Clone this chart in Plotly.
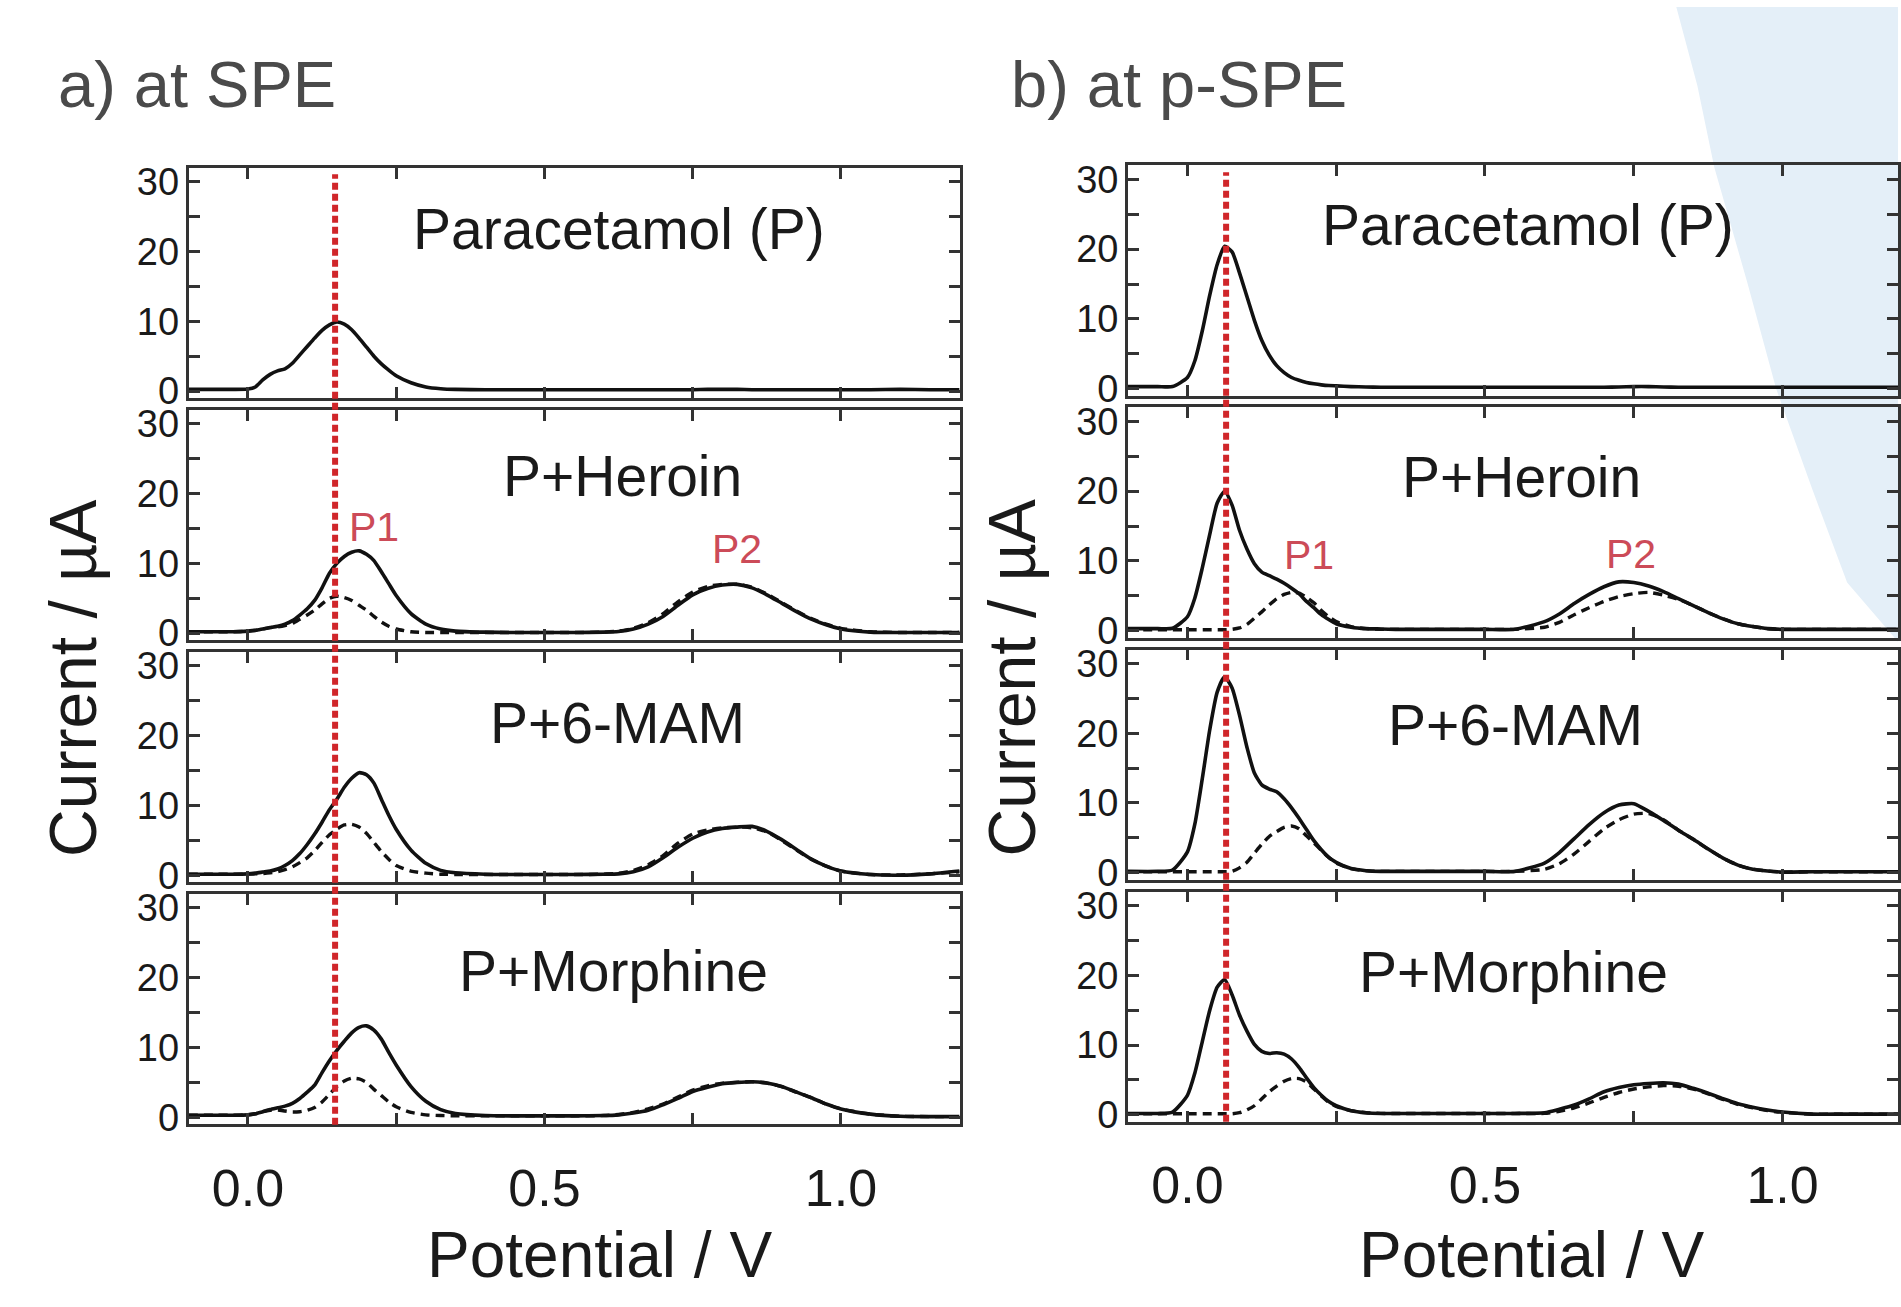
import plotly.graph_objects as go

# ---------------- data ----------------
POTENTIAL_V = [-0.1, -0.05, -0.025, 0.0, 0.0125, 0.025, 0.0375, 0.05, 0.0625, 0.075,
               0.0875, 0.1, 0.1125, 0.125, 0.1375, 0.15, 0.1625, 0.175, 0.1875, 0.2,
               0.2125, 0.225, 0.2375, 0.25, 0.275, 0.3, 0.325, 0.35, 0.4, 0.45,
               0.5, 0.55, 0.6, 0.625, 0.65, 0.675, 0.7, 0.725, 0.75, 0.775,
               0.8, 0.825, 0.85, 0.875, 0.9, 0.925, 0.95, 0.975, 1.0, 1.05,
               1.1, 1.15, 1.2]

PANEL_NAMES = ["Paracetamol (P)", "P+Heroin", "P+6-MAM", "P+Morphine"]

# a) at SPE  (solid = measured, dashed = second trace)
SPE_P_SOLID = [0.25, 0.25, 0.25, 0.3, 0.6, 1.6, 2.4, 2.9, 3.2, 4.0,
               5.2, 6.4, 7.6, 8.7, 9.5, 9.9, 9.6, 8.8, 7.6, 6.3,
               5.0, 3.9, 3.0, 2.2, 1.2, 0.6, 0.35, 0.25, 0.2, 0.2,
               0.2, 0.2, 0.2, 0.2, 0.2, 0.2, 0.2, 0.2, 0.2, 0.25,
               0.25, 0.25, 0.2, 0.2, 0.2, 0.2, 0.2, 0.2, 0.2, 0.2,
               0.25, 0.2, 0.2]
SPE_HER_SOLID = [0.2, 0.2, 0.2, 0.3, 0.4, 0.6, 0.8, 1.0, 1.3, 1.8,
                 2.6, 3.5, 4.7, 6.5, 8.6, 10.0, 11.0, 11.6, 11.8, 11.3,
                 10.4, 8.8, 7.1, 5.4, 2.8, 1.3, 0.6, 0.3, 0.15, 0.1,
                 0.1, 0.1, 0.15, 0.25, 0.6, 1.3, 2.4, 4.0, 5.5, 6.4,
                 6.9, 7.0, 6.5, 5.5, 4.3, 3.1, 2.0, 1.2, 0.6, 0.15,
                 0.1, 0.1, 0.1]
SPE_HER_DASH = [0.2, 0.2, 0.2, 0.3, 0.4, 0.6, 0.8, 0.9, 1.1, 1.4,
                2.0, 2.6, 3.3, 4.2, 5.0, 5.3, 5.1, 4.7, 4.0, 3.3,
                2.4, 1.6, 1.0, 0.6, 0.2, 0.1, 0.1, 0.1, 0.1, 0.1,
                0.1, 0.1, 0.15, 0.3, 0.7, 1.5, 2.8, 4.5, 5.9, 6.7,
                7.0, 7.0, 6.6, 5.6, 4.4, 3.2, 2.1, 1.3, 0.7, 0.2,
                0.1, 0.1, 0.1]
SPE_MAM_SOLID = [0.15, 0.15, 0.15, 0.2, 0.3, 0.45, 0.6, 0.9, 1.4, 2.1,
                 3.1, 4.4, 5.9, 7.6, 9.4, 10.9, 12.6, 13.9, 14.7, 14.4,
                 13.2, 10.9, 8.6, 6.6, 3.6, 1.7, 0.7, 0.35, 0.15, 0.1,
                 0.1, 0.1, 0.15, 0.2, 0.5, 1.2, 2.5, 4.0, 5.3, 6.2,
                 6.7, 6.9, 7.0, 6.3, 5.1, 3.7, 2.3, 1.3, 0.6, 0.1,
                 0.0, 0.2, 0.6]
SPE_MAM_DASH = [0.15, 0.15, 0.15, 0.15, 0.2, 0.25, 0.35, 0.5, 0.8, 1.2,
                1.8, 2.5, 3.5, 4.7, 5.8, 6.6, 7.2, 7.3, 6.9, 6.0,
                4.7, 3.4, 2.3, 1.4, 0.6, 0.3, 0.15, 0.1, 0.1, 0.1,
                0.1, 0.1, 0.15, 0.3, 0.7, 1.5, 2.8, 4.6, 5.9, 6.5,
                6.8, 6.9, 6.8, 6.2, 5.0, 3.6, 2.3, 1.3, 0.6, 0.1,
                0.05, 0.2, 0.5]
SPE_MOR_SOLID = [0.3, 0.3, 0.3, 0.35, 0.5, 0.8, 1.1, 1.35, 1.6, 2.0,
                 2.7, 3.6, 4.6, 6.4, 8.1, 9.6, 10.9, 12.1, 12.9, 13.1,
                 12.5, 11.2, 9.3, 7.5, 4.4, 2.3, 1.1, 0.55, 0.25, 0.2,
                 0.2, 0.2, 0.25, 0.35, 0.6, 1.0, 1.8, 2.7, 3.7, 4.3,
                 4.8, 5.0, 5.1, 4.9, 4.4, 3.6, 2.8, 1.9, 1.2, 0.45,
                 0.15, 0.1, 0.1]
SPE_MOR_DASH = [0.3, 0.3, 0.3, 0.35, 0.5, 0.8, 1.0, 1.05, 0.9, 0.75,
                0.8, 1.0, 1.4, 2.2, 3.3, 4.4, 5.2, 5.6, 5.5, 5.0,
                4.0, 3.1, 2.2, 1.5, 0.7, 0.35, 0.25, 0.2, 0.2, 0.2,
                0.2, 0.2, 0.25, 0.4, 0.7, 1.2, 1.9, 2.9, 3.9, 4.5,
                4.9, 5.0, 5.1, 4.9, 4.4, 3.6, 2.8, 1.9, 1.2, 0.45,
                0.15, 0.1, 0.1]

# b) at p-SPE
PSPE_P_SOLID = [0.3, 0.3, 0.3, 1.6, 4.0, 8.3, 13.4, 17.8, 20.4, 19.6,
                16.6, 13.2, 9.8, 6.9, 4.8, 3.3, 2.3, 1.6, 1.2, 0.9,
                0.7, 0.55, 0.45, 0.4, 0.3, 0.25, 0.2, 0.2, 0.2, 0.2,
                0.2, 0.2, 0.2, 0.2, 0.2, 0.2, 0.2, 0.25, 0.3, 0.3,
                0.25, 0.2, 0.2, 0.2, 0.2, 0.2, 0.2, 0.2, 0.2, 0.2,
                0.2, 0.2, 0.2]
PSPE_HER_SOLID = [0.3, 0.3, 0.35, 2.0, 4.7, 9.0, 13.8, 18.3, 20.0, 18.0,
                  14.4, 11.7, 9.6, 8.4, 7.9, 7.4, 6.8, 6.1, 5.3, 4.2,
                  3.3, 2.3, 1.6, 1.0, 0.5, 0.3, 0.25, 0.2, 0.2, 0.2,
                  0.2, 0.2, 1.3, 2.4, 3.9, 5.2, 6.3, 7.0, 6.9, 6.4,
                  5.6, 4.6, 3.6, 2.6, 1.7, 1.0, 0.6, 0.3, 0.2, 0.2,
                  0.2, 0.2, 0.2]
PSPE_HER_DASH = [0.15, 0.15, 0.15, 0.15, 0.15, 0.15, 0.15, 0.15, 0.15, 0.2,
                 0.4, 0.9, 1.8, 2.7, 3.7, 4.6, 5.2, 5.5, 5.4, 4.8,
                 4.0, 2.9, 2.0, 1.3, 0.6, 0.3, 0.2, 0.2, 0.2, 0.2,
                 0.2, 0.2, 0.5, 1.2, 2.3, 3.3, 4.2, 4.9, 5.3, 5.5,
                 5.1, 4.5, 3.6, 2.6, 1.7, 1.0, 0.6, 0.3, 0.2, 0.2,
                 0.2, 0.2, 0.2]
PSPE_MAM_SOLID = [0.2, 0.2, 0.4, 3.0, 7.0, 13.5, 20.5, 25.9, 28.1, 26.5,
                  22.6, 18.0, 14.3, 12.6, 12.0, 11.6, 10.6, 9.3, 7.8, 6.2,
                  4.6, 3.3, 2.2, 1.5, 0.6, 0.3, 0.2, 0.2, 0.2, 0.2,
                  0.2, 0.2, 1.4, 2.9, 4.9, 6.9, 8.6, 9.7, 9.9, 8.8,
                  7.5, 6.1, 4.8, 3.4, 2.1, 1.1, 0.5, 0.25, 0.1, 0.15,
                  0.15, 0.15, 0.15]
PSPE_MAM_DASH = [0.15, 0.15, 0.15, 0.15, 0.15, 0.15, 0.15, 0.15, 0.15, 0.2,
                 0.7, 1.5, 2.8, 4.1, 5.2, 5.9, 6.5, 6.7, 6.3, 5.3,
                 4.3, 3.2, 2.2, 1.4, 0.6, 0.3, 0.2, 0.2, 0.2, 0.2,
                 0.2, 0.2, 0.5, 1.3, 2.7, 4.5, 6.3, 7.6, 8.4, 8.5,
                 7.6, 6.1, 4.8, 3.4, 2.1, 1.1, 0.5, 0.25, 0.1, 0.15,
                 0.15, 0.15, 0.15]
PSPE_MOR_SOLID = [0.2, 0.2, 0.4, 2.8, 6.0, 10.5, 15.0, 18.3, 19.4, 17.2,
                  14.3, 12.0, 10.1, 9.1, 8.8, 8.9, 8.7, 8.0, 6.8, 5.3,
                  3.9, 2.8, 1.9, 1.3, 0.6, 0.3, 0.2, 0.2, 0.2, 0.2,
                  0.2, 0.2, 0.3, 0.8, 1.4, 2.3, 3.3, 3.9, 4.3, 4.5,
                  4.6, 4.4, 3.8, 3.1, 2.3, 1.6, 1.1, 0.7, 0.4, 0.1,
                  0.1, 0.1, 0.1]
PSPE_MOR_DASH = [0.15, 0.15, 0.15, 0.15, 0.15, 0.15, 0.15, 0.15, 0.15, 0.15,
                 0.3, 0.7, 1.3, 2.3, 3.3, 4.1, 4.8, 5.2, 5.2, 4.7,
                 3.7, 2.7, 1.8, 1.2, 0.6, 0.3, 0.2, 0.2, 0.2, 0.2,
                 0.2, 0.2, 0.2, 0.5, 1.0, 1.7, 2.5, 3.2, 3.7, 4.0,
                 4.2, 4.1, 3.7, 3.0, 2.2, 1.5, 1.0, 0.6, 0.35, 0.1,
                 0.1, 0.1, 0.1]

SPE_SOLID = [SPE_P_SOLID, SPE_HER_SOLID, SPE_MAM_SOLID, SPE_MOR_SOLID]
SPE_DASH = [None, SPE_HER_DASH, SPE_MAM_DASH, SPE_MOR_DASH]
PSPE_SOLID = [PSPE_P_SOLID, PSPE_HER_SOLID, PSPE_MAM_SOLID, PSPE_MOR_SOLID]
PSPE_DASH = [None, PSPE_HER_DASH, PSPE_MAM_DASH, PSPE_MOR_DASH]

REF_POTENTIAL_SPE = 0.147   # red dashed marker, a)
REF_POTENTIAL_PSPE = 0.065  # red dashed marker, b)

X_TICKS = [0.0, 0.5, 1.0]
X_TICKTEXT = ["0.0", "0.5", "1.0"]
X_MINOR = [0.25, 0.75]
Y_TICKS = [0, 10, 20, 30]
Y_TICKTEXT = ["0", "10", "20", "30"]
Y_MINOR = [5, 15, 25]

# ---------------- layout helpers ----------------
W, H = 1901, 1307
FONT = "Liberation Sans, Arial, Helvetica, sans-serif"
INK = "#1a1a1a"
AX = "#333333"
RED = "#d0262a"
LABEL_RED = "#cc4b58"


def px(xp):
    return xp / W


def py(yp):
    return 1 - yp / H


PANEL_H = 234
LEFT_TOPS = [163.5, 409.5, 655.5, 901.5]
RIGHT_TOPS = [161.0, 407.0, 653.0, 899.0]
LEFT_X = [px(188.9), px(961.1)]
RIGHT_X = [px(1129.7), 1.0]
Y_RANGE = [-1.0, 32.0]

fig = go.Figure()
layout = {}


def add_panel(n, xdom, top, xrange, solid, dash, bottom):
    xa = "x" if n == 1 else f"x{n}"
    ya = "y" if n == 1 else f"y{n}"
    fig.add_trace(go.Scatter(x=POTENTIAL_V, y=solid, mode="lines", xaxis=xa, yaxis=ya,
                             line=dict(color="#111111", width=3.6, shape="spline", smoothing=0.6),
                             showlegend=False, hoverinfo="skip"))
    if dash is not None:
        fig.add_trace(go.Scatter(x=POTENTIAL_V, y=dash, mode="lines", xaxis=xa, yaxis=ya,
                                 line=dict(color="#111111", width=3.4, dash="9px,6px",
                                           shape="spline", smoothing=0.6),
                                 showlegend=False, hoverinfo="skip"))
    common = dict(showline=True, linecolor=AX, linewidth=2.8, mirror="ticks",
                  ticks="inside", ticklen=11, tickwidth=2.5, tickcolor=AX,
                  showgrid=False, zeroline=False, fixedrange=True)
    layout["xaxis" if n == 1 else f"xaxis{n}"] = dict(
        domain=xdom, range=xrange, anchor=ya, tickvals=X_TICKS, ticktext=X_TICKTEXT,
        minor=dict(tickvals=X_MINOR, ticks="inside", ticklen=11, tickwidth=2.5,
                   tickcolor=AX, showgrid=False),
        showticklabels=bottom, tickfont=dict(family=FONT, size=52, color=INK),
        ticklabelstandoff=16, **common)
    layout["yaxis" if n == 1 else f"yaxis{n}"] = dict(
        domain=[py(top + PANEL_H), py(top)], range=Y_RANGE, anchor=xa,
        tickvals=Y_TICKS, ticktext=Y_TICKTEXT,
        minor=dict(tickvals=Y_MINOR, ticks="inside", ticklen=11, tickwidth=2.5,
                   tickcolor=AX, showgrid=False),
        tickfont=dict(family=FONT, size=38, color=INK), ticklabelstandoff=-1, **common)


for i in range(4):
    add_panel(i + 1, LEFT_X, LEFT_TOPS[i], [-0.1, 1.2], SPE_SOLID[i], SPE_DASH[i], i == 3)
    add_panel(i + 5, RIGHT_X, RIGHT_TOPS[i], [-0.1, 1.194], PSPE_SOLID[i], PSPE_DASH[i], i == 3)

annotations = []
# panel titles
LEFT_TITLE_POS = [(0.625, 23.2), (0.632, 22.6), (0.624, 21.8), (0.616, 21.0)]
RIGHT_TITLE_POS = [(0.572, 23.4), (0.562, 22.0), (0.552, 21.2), (0.548, 20.4)]
for i in range(4):
    for (n, pos) in ((i + 1, LEFT_TITLE_POS[i]), (i + 5, RIGHT_TITLE_POS[i])):
        xa = "x" if n == 1 else f"x{n}"
        ya = "y" if n == 1 else f"y{n}"
        annotations.append(dict(text=PANEL_NAMES[i], x=pos[0], y=pos[1], xref=xa, yref=ya,
                                showarrow=False, xanchor="center", yanchor="middle",
                                font=dict(family=FONT, size=57, color=INK)))

# peak labels
for (txt, n, xv, yv) in (("P1", 2, 0.212, 15.2), ("P2", 2, 0.824, 12.0),
                         ("P1", 6, 0.205, 10.9), ("P2", 6, 0.745, 11.0)):
    annotations.append(dict(text=txt, x=xv, y=yv, xref=f"x{n}", yref=f"y{n}", showarrow=False,
                            xanchor="center", yanchor="middle",
                            font=dict(family=FONT, size=41, color=LABEL_RED)))

# panel headers
annotations.append(dict(text="a) at SPE", x=px(56), y=py(79), xref="paper", yref="paper",
                        showarrow=False, xanchor="left", yanchor="middle",
                        font=dict(family=FONT, size=65, color="#4a4a4a")))
annotations.append(dict(text="b) at p-SPE", x=px(1011), y=py(79), xref="paper", yref="paper",
                        showarrow=False, xanchor="left", yanchor="middle",
                        font=dict(family=FONT, size=65, color="#4a4a4a")))

# axis titles
for xc in (73, 1014):
    annotations.append(dict(text="Current / µA", x=px(xc), y=py(682), xref="paper", yref="paper",
                            showarrow=False, textangle=-90, xanchor="center", yanchor="middle",
                            borderpad=0, font=dict(family=FONT, size=66, color=INK)))
for xc in (600, 1534):
    annotations.append(dict(text="Potential / V", x=px(xc), y=py(1268), xref="paper", yref="paper",
                            showarrow=False, xanchor="center", yanchor="middle",
                            font=dict(family=FONT, size=64, color=INK)))

# background wedge (light blue slide decoration) and red reference lines
wedge_pts = [(1679, 0), (1700, 80), (1717, 163), (1750, 280), (1779, 388), (1815, 490),
             (1850, 585), (1901, 645), (1901, 0)]
path = "M " + " L ".join(f"{px(a):.4f},{py(b):.4f}" for a, b in wedge_pts) + " Z"
shapes = [dict(type="path", path=path, xref="paper", yref="paper", layer="below",
               fillcolor="#e4eff8", line=dict(width=0)),
          dict(type="line", xref="x", yref="paper", x0=REF_POTENTIAL_SPE, x1=REF_POTENTIAL_SPE,
               y0=py(1136), y1=py(170), line=dict(color=RED, width=6, dash="7px,4px")),
          dict(type="line", xref="x5", yref="paper", x0=REF_POTENTIAL_PSPE, x1=REF_POTENTIAL_PSPE,
               y0=py(1133), y1=py(168), line=dict(color=RED, width=6, dash="7px,4px"))]

fig.update_layout(width=W, height=H, autosize=False,
                  margin=dict(l=0, r=0, t=0, b=0, pad=0),
                  paper_bgcolor="white", plot_bgcolor="rgba(0,0,0,0)",
                  annotations=annotations, shapes=shapes, showlegend=False, **layout)

fig.write_html("out.html", config={"displayModeBar": False},
               post_script="document.body.style.margin='0px'; document.body.style.overflow='hidden';")
